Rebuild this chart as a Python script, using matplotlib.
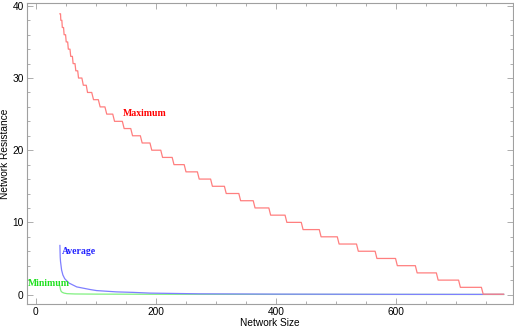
import matplotlib
matplotlib.use("Agg")
import matplotlib.pyplot as plt
from matplotlib.ticker import MultipleLocator

# maximum resistance: staircase, x where each level starts
max_x = [40, 41.5, 44, 47, 50.5, 54, 58, 62, 66.5, 71, 79, 86, 96, 107, 118, 131, 147,
         161, 177, 193, 211, 230, 250, 272, 294, 317, 341, 365, 391, 418, 445, 475,
         505, 537, 568, 602, 635, 670, 707, 745, 779]
max_y = [38.9, 38, 37, 36, 35, 34, 33, 32, 31, 30, 29, 28, 27, 26, 25, 24, 23, 22, 21,
         20, 19, 18, 17, 16, 15, 14, 13, 12, 11, 10, 9, 8, 7, 6, 5, 4, 3, 2, 1, 0.05, 0.05]

avg_x = [40, 40.5, 41, 42.8, 45, 48, 55, 68, 90, 101, 134, 162, 190, 273, 400, 600, 779]
avg_y = [6.8, 5.2, 4.6, 3.4, 2.7, 2.2, 1.6, 1.06, 0.7, 0.55, 0.37, 0.3, 0.2, 0.1, 0.06, 0.03, 0.02]

min_x = [40, 41, 42, 44, 47, 52, 65, 100, 200, 400, 779]
min_y = [1.1, 0.7, 0.45, 0.3, 0.2, 0.12, 0.08, 0.06, 0.04, 0.02, 0.01]

# the drops in the picture are not quite vertical, so slant each one a little
px, py = [max_x[0]], [max_y[0]]
for i in range(1, len(max_x)):
    w = max_x[i] - max_x[i - 1]
    d = min(3.0, 0.3 * w)
    px += [max_x[i] - d, max_x[i]]
    py += [max_y[i - 1], max_y[i]]

fig = plt.figure(figsize=(5.14, 3.30), dpi=100)
ax = fig.add_axes([0.0516, 0.079, 0.9464, 0.912])

ax.plot(min_x, min_y, color="#80f080", lw=0.9)
ax.plot(avg_x, avg_y, color="#7f7fff", lw=0.9)
ax.plot(px, py, color="#ff7f7f", lw=0.9)

lab = dict(family="Liberation Serif", fontweight="bold", fontsize=7, va="center", ha="left")
ax.text(145.5, 25.1, "Maximum", color="#ff0000", **lab)
ax.text(43.8, 6.0, "Average", color="#2020ff", **lab)
ax.text(-13.8, 1.5, "Minimum", color="#20e020", **lab)

ax.set_xlim(-15.6, 794.6)
ax.set_ylim(-1.3, 40.4)
ax.xaxis.set_major_locator(MultipleLocator(200))
ax.xaxis.set_minor_locator(MultipleLocator(50))
ax.yaxis.set_major_locator(MultipleLocator(10))
ax.yaxis.set_minor_locator(MultipleLocator(2))

for s in ax.spines.values():
    s.set_color("#a0a0a0")
    s.set_linewidth(0.8)
ax.tick_params(which="both", direction="in", top=True, right=True, color="#a0a0a0",
               labelsize=7.3, pad=2, width=0.6)
ax.tick_params(which="major", length=4)
ax.tick_params(which="minor", length=2)
for t in ax.get_xticklabels() + ax.get_yticklabels():
    t.set_family("Liberation Sans")

ax.set_xlabel("Network Size", family="Liberation Sans", fontsize=7.3, labelpad=1)
ax.set_ylabel("Network Resistance", family="Liberation Sans", fontsize=7.3, labelpad=1.5)

fig.savefig("out.png", dpi=100)
